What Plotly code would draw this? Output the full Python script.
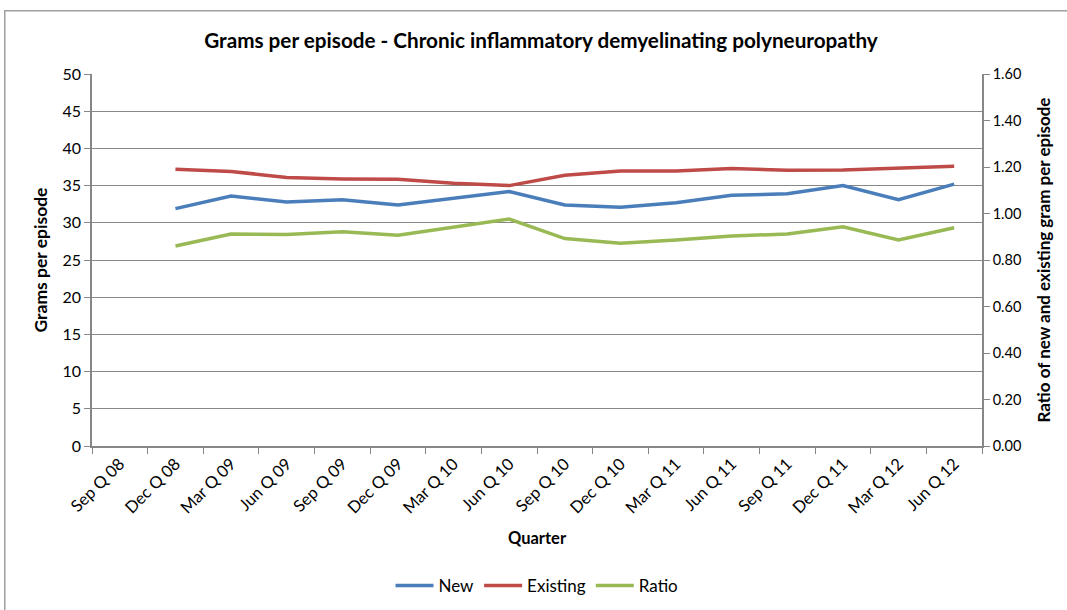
import plotly.graph_objects as go

quarters = ["Sep Q 08", "Dec Q 08", "Mar Q 09", "Jun Q 09", "Sep Q 09", "Dec Q 09",
            "Mar Q 10", "Jun Q 10", "Sep Q 10", "Dec Q 10", "Mar Q 11", "Jun Q 11",
            "Sep Q 11", "Dec Q 11", "Mar Q 12", "Jun Q 12"]
new_grams = [None, 31.9, 33.6, 32.8, 33.1, 32.4, 33.3, 34.2, 32.4, 32.1, 32.7, 33.7,
             33.9, 35.0, 33.1, 35.2]
existing_grams = [None, 37.2, 36.9, 36.1, 35.9, 35.85, 35.3, 35.0, 36.4, 36.95, 36.95, 37.3,
                  37.05, 37.1, 37.4, 37.6]
ratio = [None, 0.860, 0.912, 0.910, 0.922, 0.906, 0.941, 0.976, 0.892, 0.872, 0.886, 0.903,
         0.912, 0.943, 0.886, 0.939]

left_ticks = [0, 5, 10, 15, 20, 25, 30, 35, 40, 45, 50]
right_ticks = [0, 0.2, 0.4, 0.6, 0.8, 1.0, 1.2, 1.4, 1.6]

FONT = "Lato"
AXIS_GREY = "#878787"

fig = go.Figure()
fig.add_trace(go.Scatter(x=quarters, y=new_grams, name="New", mode="lines",
                         line=dict(color="#4A7EBB", width=3.5)))
fig.add_trace(go.Scatter(x=quarters, y=existing_grams, name="Existing", mode="lines",
                         line=dict(color="#BE4B48", width=3.5)))
fig.add_trace(go.Scatter(x=quarters, y=ratio, name="Ratio", mode="lines", yaxis="y2",
                         line=dict(color="#98B954", width=3.5)))

fig.update_layout(
    width=1067, height=610,
    margin=dict(l=92, r=85, t=74, b=164, autoexpand=False),
    paper_bgcolor="white", plot_bgcolor="white",
    font=dict(family=FONT, size=15, color="#000000"),
    title=dict(text="<b>Grams per episode - Chronic inflammatory demyelinating polyneuropathy</b>",
               x=0.507, xanchor="center", y=0.934, yanchor="middle",
               font=dict(family=FONT, size=20.7)),
    xaxis=dict(type="category", categoryorder="array", categoryarray=quarters,
               range=[-0.5, len(quarters) - 0.5], tickson="boundaries", automargin=False,
               ticks="outside", ticklen=6, tickcolor=AXIS_GREY, tickangle=-45,
               showline=True, linecolor=AXIS_GREY, linewidth=1.5, showgrid=False,
               tickfont=dict(size=16.5),
               title=dict(text="<b>Quarter</b>", font=dict(size=16.5), standoff=16)),
    yaxis=dict(range=[0, 50], tickvals=left_ticks, ticks="outside", ticklen=6,
               automargin=False,
               tickcolor=AXIS_GREY, showline=True, linecolor=AXIS_GREY, linewidth=1.5,
               showgrid=True, gridcolor=AXIS_GREY, gridwidth=1.2, zeroline=False,
               tickfont=dict(size=16),
               title=dict(text="<b>Grams per episode</b>", font=dict(size=17.5), standoff=10)),
    yaxis2=dict(range=[0, 1.6], tickvals=right_ticks, tickformat=".2f", overlaying="y",
                side="right", ticks="outside", ticklen=6, tickcolor=AXIS_GREY,
                automargin=False,
                showline=True, linecolor=AXIS_GREY, linewidth=1.5, showgrid=False,
                zeroline=False, tickfont=dict(size=14.5),
                title=dict(text="<b>Ratio of new and existing gram per episode</b>",
                           font=dict(size=17), standoff=18)),
    legend=dict(orientation="h", x=0.5, xanchor="center", y=-0.376, yanchor="middle",
                font=dict(size=17), itemwidth=38, traceorder="normal"),
    showlegend=True,
)

# Outer chart frame
fig.add_shape(type="rect", xref="paper", yref="paper",
              x0=-0.098, x1=1.2, y0=-0.6, y1=1.17,
              line=dict(color="#a0a0a0", width=1.5), fillcolor="rgba(0,0,0,0)",
              layer="below")

fig.write_html("out.html")
